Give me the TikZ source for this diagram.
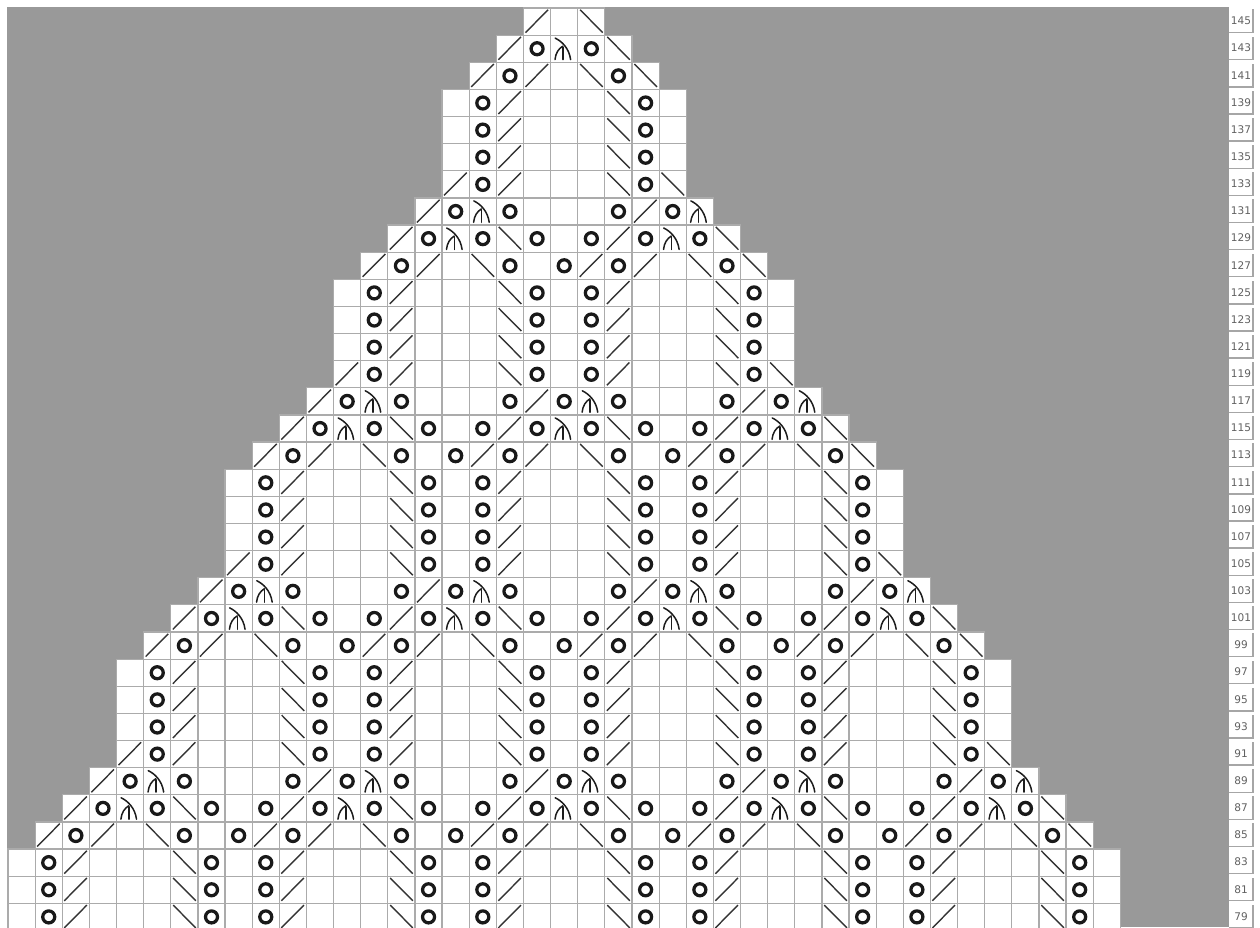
\documentclass[tikz,border=0pt]{standalone}
\usepackage{fontspec}
\setmainfont{DejaVu Sans}
\usepackage{tikz}

\definecolor{chartbg}{HTML}{999999}
\definecolor{gridline}{HTML}{ABABAB}
\definecolor{symink}{HTML}{1C1C1C}

\tikzset{
cell/.style={fill=white,draw=gridline,line width=0.7pt},
slant/.style={draw=symink!90!white,line width=0.8pt},
yarnover/.style={draw=black!90,line width=1.85pt},
decline/.style={draw=symink,line width=0.85pt,line cap=round},
rownum/.style={fill=white,font=\fontsize{6}{7}\selectfont,text=black!62,minimum width=0.47cm,minimum height=0.45cm,inner sep=0pt},
numshade/.style={draw=black!35,line width=0.8pt},
pics/kl/.style={code={\draw[slant] (2,24.6) -- (24.6,1.8);}},
pics/kr/.style={code={\draw[slant] (2.4,1.8) -- (25,24.6);}},
pics/ko/.style={code={\draw[yarnover] (13.6,13.6) circle[radius=6];}},
pics/ka/.style={code={
\draw[decline] (4.6,3) .. controls (11,6) and (18.5,13) .. (20,24.4);
\draw[decline] (4.4,24.4) .. controls (5,18) and (8,13.5) .. (12.2,11);
\draw[decline] (12.4,12) -- (12.4,24.4);}},
pics/kb/.style={code={}}
}

\begin{document}
\begin{tikzpicture}[x=0.02cm,y=-0.02cm]
\useasboundingbox (0,0) rectangle (1260,927);
\fill[white] (0,0) rectangle (1260,927);
\fill[chartbg] (7,7) rectangle (1228.5,927);
\begin{scope}
\clip (0,0) rectangle (1260,927);
\foreach \rownum/\firstcol/\cells in {
145/19/{l,b,r},
143/18/{l,o,a,o,r},
141/17/{l,o,l,b,r,o,r},
139/16/{b,o,l,b,b,b,r,o,b},
137/16/{b,o,l,b,b,b,r,o,b},
135/16/{b,o,l,b,b,b,r,o,b},
133/16/{l,o,l,b,b,b,r,o,r},
131/15/{l,o,a,o,b,b,b,o,l,o,a},
129/14/{l,o,a,o,r,o,b,o,l,o,a,o,r},
127/13/{l,o,l,b,r,o,b,o,l,o,l,b,r,o,r},
125/12/{b,o,l,b,b,b,r,o,b,o,l,b,b,b,r,o,b},
123/12/{b,o,l,b,b,b,r,o,b,o,l,b,b,b,r,o,b},
121/12/{b,o,l,b,b,b,r,o,b,o,l,b,b,b,r,o,b},
119/12/{l,o,l,b,b,b,r,o,b,o,l,b,b,b,r,o,r},
117/11/{l,o,a,o,b,b,b,o,l,o,a,o,b,b,b,o,l,o,a},
115/10/{l,o,a,o,r,o,b,o,l,o,a,o,r,o,b,o,l,o,a,o,r},
113/9/{l,o,l,b,r,o,b,o,l,o,l,b,r,o,b,o,l,o,l,b,r,o,r},
111/8/{b,o,l,b,b,b,r,o,b,o,l,b,b,b,r,o,b,o,l,b,b,b,r,o,b},
109/8/{b,o,l,b,b,b,r,o,b,o,l,b,b,b,r,o,b,o,l,b,b,b,r,o,b},
107/8/{b,o,l,b,b,b,r,o,b,o,l,b,b,b,r,o,b,o,l,b,b,b,r,o,b},
105/8/{l,o,l,b,b,b,r,o,b,o,l,b,b,b,r,o,b,o,l,b,b,b,r,o,r},
103/7/{l,o,a,o,b,b,b,o,l,o,a,o,b,b,b,o,l,o,a,o,b,b,b,o,l,o,a},
101/6/{l,o,a,o,r,o,b,o,l,o,a,o,r,o,b,o,l,o,a,o,r,o,b,o,l,o,a,o,r},
99/5/{l,o,l,b,r,o,b,o,l,o,l,b,r,o,b,o,l,o,l,b,r,o,b,o,l,o,l,b,r,o,r},
97/4/{b,o,l,b,b,b,r,o,b,o,l,b,b,b,r,o,b,o,l,b,b,b,r,o,b,o,l,b,b,b,r,o,b},
95/4/{b,o,l,b,b,b,r,o,b,o,l,b,b,b,r,o,b,o,l,b,b,b,r,o,b,o,l,b,b,b,r,o,b},
93/4/{b,o,l,b,b,b,r,o,b,o,l,b,b,b,r,o,b,o,l,b,b,b,r,o,b,o,l,b,b,b,r,o,b},
91/4/{l,o,l,b,b,b,r,o,b,o,l,b,b,b,r,o,b,o,l,b,b,b,r,o,b,o,l,b,b,b,r,o,r},
89/3/{l,o,a,o,b,b,b,o,l,o,a,o,b,b,b,o,l,o,a,o,b,b,b,o,l,o,a,o,b,b,b,o,l,o,a},
87/2/{l,o,a,o,r,o,b,o,l,o,a,o,r,o,b,o,l,o,a,o,r,o,b,o,l,o,a,o,r,o,b,o,l,o,a,o,r},
85/1/{l,o,l,b,r,o,b,o,l,o,l,b,r,o,b,o,l,o,l,b,r,o,b,o,l,o,l,b,r,o,b,o,l,o,l,b,r,o,r},
83/0/{b,o,l,b,b,b,r,o,b,o,l,b,b,b,r,o,b,o,l,b,b,b,r,o,b,o,l,b,b,b,r,o,b,o,l,b,b,b,r,o,b},
81/0/{b,o,l,b,b,b,r,o,b,o,l,b,b,b,r,o,b,o,l,b,b,b,r,o,b,o,l,b,b,b,r,o,b,o,l,b,b,b,r,o,b},
79/0/{b,o,l,b,b,b,r,o,b,o,l,b,b,b,r,o,b,o,l,b,b,b,r,o,b,o,l,b,b,b,r,o,b,o,l,b,b,b,r,o,b}} {
  \pgfmathsetmacro{\rowtop}{8+(145-\rownum)/2*27.13}
  \foreach \c [count=\i from \firstcol] in \cells {
    \pgfmathsetmacro{\colleft}{8+\i*27.13}
    \draw[cell] (\colleft,\rowtop) rectangle ++(27.13,27.13);
    \pic at (\colleft,\rowtop) {k\c};
  }
  \node[rownum] (num\rownum) at (1241,\rowtop+13) {\rownum};
  \draw[numshade] (num\rownum.south west) -- (num\rownum.south east) -- (num\rownum.north east);
}
\end{scope}
\end{tikzpicture}
\end{document}
